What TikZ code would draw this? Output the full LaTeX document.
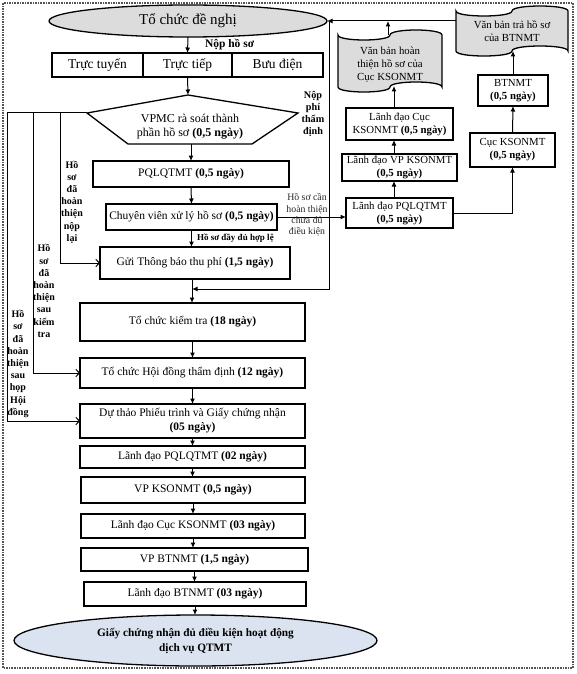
\documentclass[tikz,border=0pt]{standalone}
\usepackage{fontspec}
\setmainfont{Liberation Serif}
\usetikzlibrary{arrows.meta,shapes.geometric,calc}
\definecolor{ellgray}{HTML}{DCDCDC}
\definecolor{ellblue}{HTML}{DAE3EF}
\definecolor{bordergray}{HTML}{555555}
\newcommand\fsTop{\fontsize{15}{17}\selectfont}
\newcommand\fsRow{\fontsize{13.5}{15}\selectfont}
\newcommand\fsBox{\fontsize{11.5}{14}\selectfont}
\newcommand\fsPen{\fontsize{12}{14}\selectfont}
\newcommand\fsRt{\fontsize{10.8}{13}\selectfont}
\newcommand\fsLab{\fontsize{10}{12.2}\selectfont}
\newcommand\fsNp{\fontsize{10.2}{12}\selectfont}
\newcommand\fsSm{\fontsize{9.8}{11.3}\selectfont}
\newcommand\fsOk{\fontsize{9}{11}\selectfont}
\newcommand\fsBot{\fontsize{11.3}{15}\selectfont}
\newcommand\tapeshape[5]{%
  \pgfmathsetmacro\tm{(#1+#3)/2}%
  \pgfmathsetmacro\ta{#5}%
  \filldraw[docstyle] ({#1},{#2+\ta})
    .. controls ({#1},{#2+\ta+4/3*\ta}) and ({\tm},{#2+\ta+4/3*\ta}) .. ({\tm},{#2+\ta})
    .. controls ({\tm},{#2+\ta-4/3*\ta}) and ({#3},{#2+\ta-4/3*\ta}) .. ({#3},{#2+\ta})
    -- ({#3},{#4-\ta})
    .. controls ({#3},{#4-\ta-4/3*\ta}) and ({\tm},{#4-\ta-4/3*\ta}) .. ({\tm},{#4-\ta})
    .. controls ({\tm},{#4-\ta+4/3*\ta}) and ({#1},{#4-\ta+4/3*\ta}) .. ({#1},{#4-\ta})
    -- cycle;}
\tikzset{
  every node/.style={inner sep=0pt, outer sep=0pt},
  outer/.style={draw=bordergray, line width=1.3pt, dash pattern=on 1.6pt off 1pt},
  box/.style={draw, line width=1.3pt, fill=white, align=center, font=\fsBox},
  rbox/.style={draw, line width=1.3pt, fill=white, align=center, font=\fsRt},
  rowbox/.style={draw, line width=1.2pt, minimum height=24pt, font=\fsRow},
  docstyle/.style={draw, line width=1.3pt, fill=ellgray},
  ln/.style={line width=1pt},
  arr/.style={line width=1pt, -{Latex[length=5.5pt,width=5pt]}},
  oarr/.style={line width=1pt, -{Straight Barb[length=3.5pt,width=7.5pt]}},
  vlab/.style={align=center, font=\fsLab\bfseries}
}
\begin{document}
\begin{tikzpicture}[x=1pt,y=-1pt]
\useasboundingbox (0,0) rectangle (576,674);
\draw[outer] (3,3) rectangle (573,668);

% top ellipse
\node[ellipse, draw, line width=1.3pt, fill=ellgray, minimum width=278pt, minimum height=32pt, font=\fsTop] (org) at (188,21) {Tổ chức đề nghị};

% submission channels
\node[rowbox, minimum width=91pt] (ch1) at (97.5,65) {Trực tuyến};
\node[rowbox, minimum width=89pt] (ch2) at (187.5,65) {Trực tiếp};
\node[rowbox, minimum width=91pt] (ch3) at (277.5,65) {Bưu điện};
\draw[arr] (org.south) -- (ch2.north);
\node[font=\fsBox\bfseries, anchor=west] (nophs) at (205,45) {Nộp hồ sơ};

% pentagon
\coordinate (pT) at (188,95);
\coordinate (pR) at (298,113);
\coordinate (pBR) at (252,144);
\coordinate (pBL) at (128,144);
\coordinate (pL) at (87,113);
\coordinate (pB) at (191,144);
\draw[line width=1.3pt, fill=white] (pT) -- (pR) -- (pBR) -- (pBL) -- (pL) -- cycle;
\node[font=\fsPen, align=center] (vpmc) at (190,127) {VPMC rà soát thành\\phần hồ sơ \textbf{(0,5 ngày)}};
\draw[arr] (ch2.south) -- (pT);

% main column
\node[box, minimum width=196pt, minimum height=26pt] (pql) at (191,174) {PQLQTMT \textbf{(0,5 ngày)}};
\node[box, minimum width=171pt, minimum height=26pt] (cv) at (191.5,217) {Chuyên viên xử lý hồ sơ \textbf{(0,5 ngày)}};
\node[box, minimum width=190pt, minimum height=32pt] (gui) at (195,263) {Gửi Thông báo thu phí \textbf{(1,5 ngày)}};
\node[box, minimum width=225pt, minimum height=38pt] (kt) at (192.5,322) {Tổ chức kiểm tra \textbf{(18 ngày)}};
\node[box, minimum width=225pt, minimum height=30pt] (hd) at (192.5,373) {Tổ chức Hội đồng thẩm định \textbf{(12 ngày)}};
\node[box, minimum width=225pt, minimum height=34pt] (dt) at (192.5,421) {Dự thảo Phiếu trình và Giấy chứng nhận\\\textbf{(05 ngày)}};
\node[box, minimum width=225pt, minimum height=22pt] (lp) at (192.5,457) {Lãnh đạo PQLQTMT \textbf{(02 ngày)}};
\node[box, minimum width=224pt, minimum height=26pt] (vpk) at (193,490) {VP KSONMT \textbf{(0,5 ngày)}};
\node[box, minimum width=224pt, minimum height=24pt] (lc) at (193,526) {Lãnh đạo Cục KSONMT \textbf{(03 ngày)}};
\node[box, minimum width=227pt, minimum height=23pt] (vpb) at (194.5,559.5) {VP BTNMT \textbf{(1,5 ngày)}};
\node[box, minimum width=222pt, minimum height=24pt] (lb) at (195,594) {Lãnh đạo BTNMT \textbf{(03 ngày)}};
\node[ellipse, draw, line width=1.3pt, fill=ellblue, minimum width=363pt, minimum height=51pt, align=center, font=\fsBot\bfseries] (cert) at (195.5,640.5) {Giấy chứng nhận đủ điều kiện hoạt động\\dịch vụ QTMT};

\coordinate (mj) at (192,289);
\draw[arr] (pB) -- (pql.north);
\draw[arr] (pql.south) -- (cv.north);
\draw[arr] (cv.south) -- (cv.south |- gui.north);
\node[font=\fsOk\bfseries, anchor=west] (okl) at (197,238) {Hồ sơ đầy đủ hợp lệ};
\draw[arr] (mj |- gui.south) -- (mj |- kt.north);
\draw[arr] (kt.south) -- (hd.north);
\draw[arr] (hd.south) -- (dt.north);
\draw[arr] (dt.south) -- (dt.south |- lp.north);
\draw[arr] (lp.south) -- (lp.south |- vpk.north);
\draw[arr] (vpk.south) -- (vpk.south |- lc.north);
\draw[arr] (lc.south) -- (lc.south |- vpb.north);
\draw[arr] (vpb.south) -- (vpb.south |- lb.north);
\draw[arr] (lb.south) -- (lb.south |- cert.north);

% left return paths
\coordinate (L1) at (60,113);
\coordinate (L2) at (33,113);
\coordinate (L3) at (7,113);
\draw[ln] (pL) -- (L3);
\draw[oarr] (L1) |- (gui.west);
\draw[oarr] (L2) |- (hd.west);
\draw[oarr] (L3) |- (dt.west);
\node[vlab] (la) at (72,202) {Hồ\\sơ\\đã\\hoàn\\thiện\\nộp\\lại};
\node[vlab] (lbl) at (44,291) {Hồ\\sơ\\đã\\hoàn\\thiện\\sau\\kiểm\\tra};
\node[vlab] (lcl) at (18,364) {Hồ\\sơ\\đã\\hoàn\\thiện\\sau\\họp\\Hội\\đồng};

% right side
\node[rbox, minimum width=107pt, minimum height=30pt] (ra) at (399.5,213) {Lãnh đạo PQLQTMT\\\textbf{(0,5 ngày)}};
\node[rbox, minimum width=115pt, minimum height=27pt] (rb) at (399.5,167.5) {Lãnh đạo VP KSONMT\\\textbf{(0,5 ngày)}};
\node[rbox, minimum width=107pt, minimum height=32pt] (rc) at (399.5,124) {Lãnh đạo Cục\\KSONMT \textbf{(0,5 ngày)}};
\node[rbox, minimum width=85pt, minimum height=34pt] (rd) at (512.5,150) {Cục KSONMT\\\textbf{(0,5 ngày)}};
\node[rbox, minimum width=70pt, minimum height=31pt] (re) at (513,90.5) {BTNMT\\\textbf{(0,5 ngày)}};

\tapeshape{338}{30}{442}{92}{5}
\node[align=center, font=\fsRt] (d1) at (390,65) {Văn bản hoàn\\thiện hồ sơ của\\Cục KSONMT};
\tapeshape{456}{6}{568}{56}{5}
\node[align=center, font=\fsRt] (d2) at (512,31) {Văn bản trả hồ sơ\\của BTNMT};

\coordinate (ax) at (394,0);
\coordinate (d1b) at (394,86);
\coordinate (d1t) at (388,35);
\coordinate (d2b) at (513,51);
\coordinate (d2w) at (456,21);
\coordinate (np1) at (329,21);

\draw[arr] (cv.east) -- (cv.east -| ra.west);
\node[align=center, font=\fsSm, text=black!85] (hsc) at (307,215) {Hồ sơ cần\\hoàn thiện\\chưa đủ\\điều kiện};
\draw[arr] (ax |- ra.north) -- (ax |- rb.south);
\draw[arr] (ax |- rb.north) -- (ax |- rc.south);
\draw[arr] (ax |- rc.north) -- (d1b);
\draw[arr] (d1t) -- (d1t |- org.east);
\draw[arr] (ra.east) -| (rd.south);
\draw[arr] (rd.north) -- (re.south);
\draw[arr] (re.north) -- (d2b);
\draw[arr] (d2w) -- (org.east);
\draw[arr] (np1) |- (mj);
\node[align=center, font=\fsNp\bfseries] (npl) at (313,114) {Nộp\\phí\\thẩm\\định};
\end{tikzpicture}
\end{document}
